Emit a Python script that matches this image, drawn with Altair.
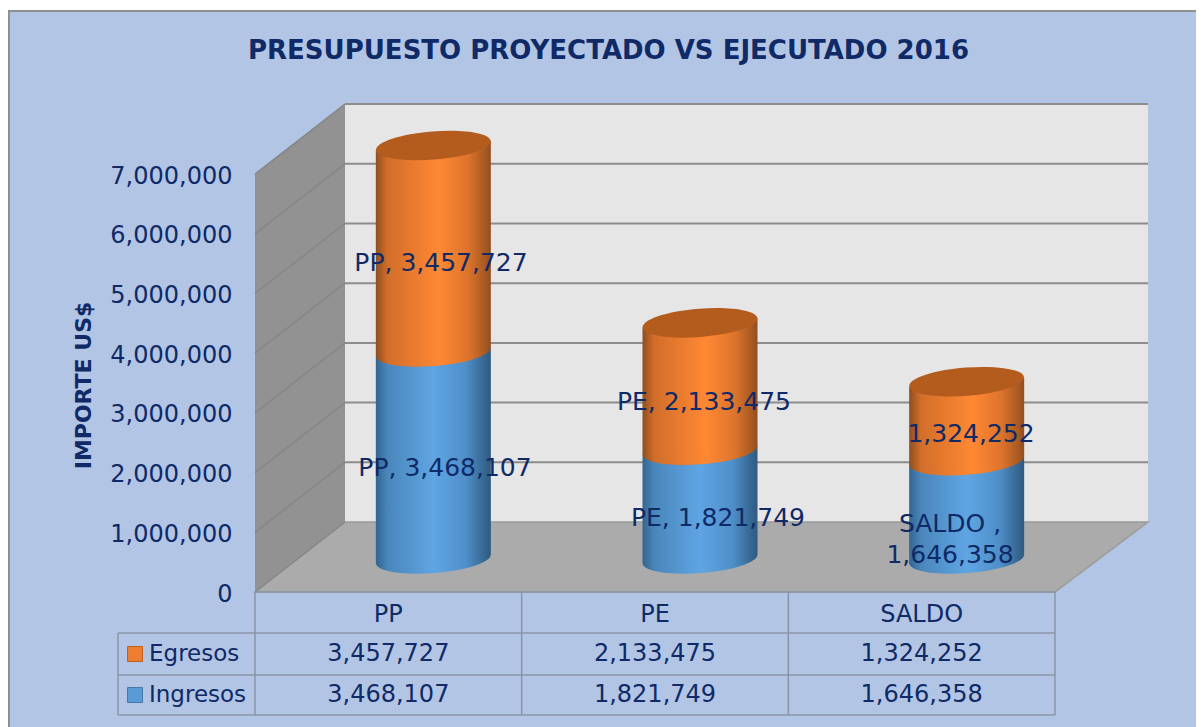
import altair as alt
import pandas as pd

# ---- values
categories = ["PP", "PE", "SALDO"]
ingresos = [3468107, 1821749, 1646358]
egresos = [3457727, 2133475, 1324252]
ticks = [0, 1000000, 2000000, 3000000, 4000000, 5000000, 6000000, 7000000]

TITLE = "PRESUPUESTO PROYECTADO VS EJECUTADO 2016"
FONT = "DejaVu Sans"
INK = "#0f2a66"
PANEL = "#b2c5e5"

# ---- scale geometry: x in category units, y in US$
PLOT_L, PLOT_R, PLOT_T, PLOT_B = 255, 1148, 105, 715
ZERO_PX = 592
PX_PER_CAT = 800 / 3
PX_PER_USD = 59.7 / 1e6
def X(px): return (px - PLOT_L) / PX_PER_CAT
def Y(px): return (ZERO_PX - px) / PX_PER_USD
xs = alt.Scale(domain=[X(PLOT_L), X(PLOT_R)], nice=False, zero=False)
ys = alt.Scale(domain=[Y(PLOT_B), Y(PLOT_T)], nice=False, zero=False)
y_axis = alt.Axis(
    values=ticks, labelExpr="format(datum.value, ',')", domain=False, ticks=False, grid=False, labelFont=FONT,
    labelFontSize=24, labelColor=INK, labelPadding=23, labelOffset=2, zindex=1,
    titleFont=FONT, titleFontSize=22, titleFontWeight="bold", titleColor=INK,
    titleX=-160, titleY=280, titleAngle=-90, titleAnchor="middle")
xq = lambda f: alt.X(f, type="quantitative", scale=xs, axis=None)
yq = lambda f: alt.Y(f, type="quantitative", scale=ys, title="IMPORTE US$", axis=y_axis)

DX = X(345)          # wall depth
DY = 70 / PX_PER_USD
XR = X(1148)
TOP = 7000000

# ---- panel
panel = alt.Chart(pd.DataFrame([{"x": X(9), "x2": X(1215), "y": Y(11), "y2": Y(740)}])).mark_rect(
    fill=PANEL, stroke="#909090", strokeWidth=2
).encode(x=xq("x"), x2="x2", y=yq("y"), y2="y2")

# ---- walls and floor
side = alt.Chart(pd.DataFrame({"x": [0, DX], "y": [0, DY], "y2": [TOP, TOP + DY]})).mark_area(
    color="#929292").encode(x=xq("x"), y=yq("y"), y2="y2")
back = alt.Chart(pd.DataFrame({"x": [DX, XR], "y": [DY, DY], "y2": [TOP + DY, TOP + DY]})).mark_area(
    color="#e6e6e6").encode(x=xq("x"), y=yq("y"), y2="y2")
floor = alt.Chart(pd.DataFrame({"y": [0, DY], "x": [0, DX], "x2": [3, XR]})).mark_area(
    color="#ababab", orient="horizontal", stroke="#9a9a9a", strokeWidth=1.5
).encode(y=yq("y"), x=xq("x"), x2="x2")

side_rows, back_rows = [], []
for k in ticks:
    side_rows += [{"k": k, "x": 0, "y": k}, {"k": k, "x": DX, "y": k + DY}]
    if k > 0:
        back_rows += [{"k": k, "x": DX, "y": k + DY}, {"k": k, "x": XR, "y": k + DY}]
side_grid = alt.Chart(pd.DataFrame(side_rows)).mark_line(color="#868686", strokeWidth=1.5).encode(
    x=xq("x"), y=yq("y"), detail="k:N")
back_grid = alt.Chart(pd.DataFrame(back_rows)).mark_line(color="#8c8c8c", strokeWidth=2).encode(
    x=xq("x"), y=yq("y"), detail="k:N")

# ---- cylinders
BASE = (ZERO_PX - 559) / PX_PER_USD
HALF = 57.5 / PX_PER_CAT
TILT = 4.5 / PX_PER_USD
CENTER = [i + 0.5 + DX / 2 for i in range(3)]

def grad(stops):
    return alt.Gradient(gradient="linear", x1=0, x2=1, y1=0, y2=0,
                        stops=[alt.GradientStop(offset=o, color=c) for o, c in stops])

BLUE = grad([(0, "#33658f"), (0.1, "#4a86bb"), (0.5, "#5fa5e3"), (0.78, "#4f8fca"), (0.95, "#35658f"), (1, "#2f5a80")])
ORANGE = grad([(0, "#8f4e1f"), (0.1, "#d26e2a"), (0.55, "#ff8833"), (0.8, "#dd742c"), (0.95, "#a85a22"), (1, "#8f4e1f")])

seg_rows, ell_rows = [], []
for i, (a, b) in enumerate(zip(ingresos, egresos)):
    c = CENTER[i]
    for name, lo, hi in (("Ingresos", BASE, BASE + a), ("Egresos", BASE + a, BASE + a + b)):
        seg_rows += [
            {"s": name, "i": i, "x": c - HALF, "y": lo - TILT, "y2": hi - TILT},
            {"s": name, "i": i, "x": c + HALF, "y": lo + TILT, "y2": hi + TILT},
        ]
        ell_rows.append({"s": name, "x": c, "lo": lo, "hi": hi})
seg = pd.DataFrame(seg_rows)
ell = pd.DataFrame(ell_rows)

ELLIPSE = "M-1,0A1,0.245,0,1,1,1,0A1,0.245,0,1,1,-1,0Z"
SIZE = (2 * 57.5) ** 2
ANGLE = 355.5

def body(name, fill):
    return alt.Chart(seg[seg.s == name]).mark_area(fill=fill).encode(
        x=xq("x"), y=yq("y"), y2="y2", detail="i:N")
def cap(name, field, fill, **kw):
    return alt.Chart(ell[ell.s == name]).mark_point(
        shape=ELLIPSE, size=SIZE, angle=ANGLE, filled=True, fill=fill, opacity=1, **kw
    ).encode(x=xq("x"), y=yq(field))

cyl = [cap("Ingresos", "lo", BLUE), body("Ingresos", BLUE),
       cap("Egresos", "lo", ORANGE), body("Egresos", ORANGE),
       cap("Egresos", "hi", "#b35c1e")]

# ---- data labels: text from the values, placed beside the cylinders
lbl_text = [f"{categories[0]}, {egresos[0]:,}", f"{categories[0]}, {ingresos[0]:,}",
            f"{categories[1]}, {egresos[1]:,}", f"{categories[1]}, {ingresos[1]:,}",
            f"{egresos[2]:,}", [f"{categories[2]} ,", f"{ingresos[2]:,}"]]
lbl_xpx = [441, 445, 704, 718, 971, 950]
lbl_ypx = [263, 468, 402, 518, 434, 523.5]
labels = alt.layer(*[
    alt.Chart(pd.DataFrame([{"x": X(px), "y": Y(py), "t": 0}])).mark_text(
        text=t, font=FONT, fontSize=25, color=INK, align="center", baseline="middle", lineHeight=31
    ).encode(x=xq("x"), y=yq("y"))
    for t, px, py in zip(lbl_text, lbl_xpx, lbl_ypx)])

# ---- data table
HEAD_Y, ROW1_Y, ROW2_Y = Y(615), Y(654), Y(695)
L1, L2, L3 = Y(633), Y(675), Y(715)
LEFT = X(118)
hl = pd.DataFrame([{"x": 0, "x2": 3, "y": 0}, {"x": LEFT, "x2": 3, "y": L1},
                   {"x": LEFT, "x2": 3, "y": L2}, {"x": LEFT, "x2": 3, "y": L3}])
vl = pd.DataFrame([{"x": 0, "y": 0, "y2": L3}, {"x": 1, "y": 0, "y2": L3}, {"x": 2, "y": 0, "y2": L3},
                   {"x": 3, "y": 0, "y2": L3}, {"x": LEFT, "y": L1, "y2": L3}])
TABLE_LINE = "#8b94a6"
hlines = alt.Chart(hl).mark_rule(color=TABLE_LINE, strokeWidth=1.5).encode(x=xq("x"), x2="x2", y=yq("y"))
vlines = alt.Chart(vl).mark_rule(color=TABLE_LINE, strokeWidth=1.5).encode(x=xq("x"), y=yq("y"), y2="y2")

tbl = pd.DataFrame(
    [{"x": i + 0.5, "y": HEAD_Y, "t": c} for i, c in enumerate(categories)]
    + [{"x": i + 0.5, "y": ROW1_Y, "t": f"{v:,}"} for i, v in enumerate(egresos)]
    + [{"x": i + 0.5, "y": ROW2_Y, "t": f"{v:,}"} for i, v in enumerate(ingresos)])
tbl_text = alt.Chart(tbl).mark_text(font=FONT, fontSize=24, color=INK, align="center", baseline="middle").encode(
    x=xq("x"), y=yq("y"), text="t:N")

leg = pd.DataFrame([{"n": "Egresos", "y": ROW1_Y, "c": "#ed7d31", "b": "#c0601f"},
                    {"n": "Ingresos", "y": ROW2_Y, "c": "#5b9bd5", "b": "#4878a8"}])
swatch = alt.Chart(leg).mark_point(shape="square", size=225, filled=True, opacity=1, strokeWidth=1).encode(
    x=alt.datum(X(135), type="quantitative", scale=xs, axis=None), y=yq("y"),
    fill=alt.Fill("c:N", scale=None), stroke=alt.Stroke("b:N", scale=None))
leg_text = alt.Chart(leg).mark_text(font=FONT, fontSize=23, color=INK, align="left", baseline="middle").encode(
    x=alt.datum(X(149), type="quantitative", scale=xs, axis=None), y=yq("y"), text="n:N")

chart = alt.layer(panel, side, back, floor, side_grid, back_grid, *cyl, labels,
                  hlines, vlines, tbl_text, swatch, leg_text).properties(
    width=PLOT_R - PLOT_L, height=PLOT_B - PLOT_T,
    title=alt.TitleParams(TITLE, font=FONT, fontSize=26, fontWeight="bold", color=INK,
                          anchor="middle", dx=-93, dy=58),
    background="white",
    padding={"left": PLOT_L - 8, "top": PLOT_T - 8, "right": 1196 - PLOT_R, "bottom": 12},
    autosize=alt.AutoSizeParams(type="none"),
).resolve_scale(x="shared", y="shared").configure_view(stroke=None)

chart.save("out.html", embed_options={"renderer": "svg", "actions": False})
